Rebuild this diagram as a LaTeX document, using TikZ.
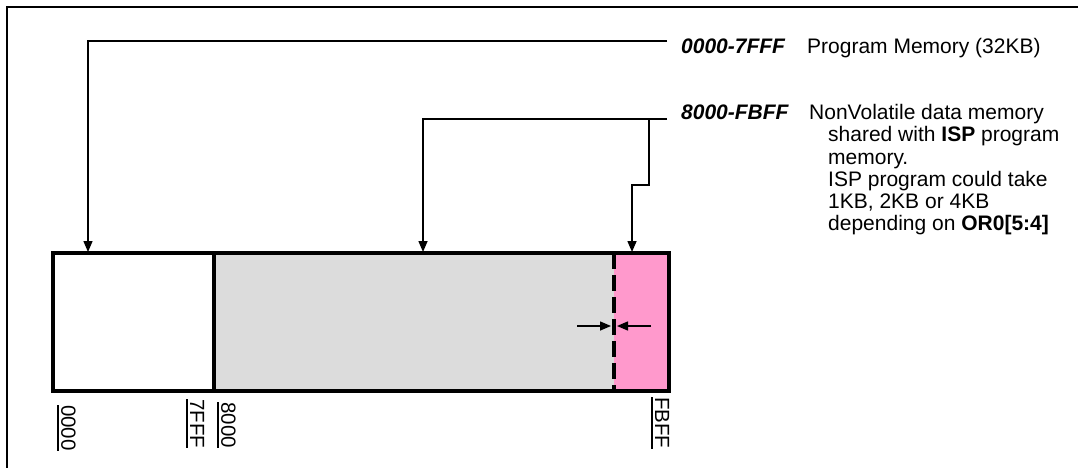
\documentclass[tikz,border=0pt]{standalone}
\usepackage{fontspec}
\setmainfont{Liberation Sans}
\usetikzlibrary{arrows.meta}
\tikzset{
  txt/.style={inner sep=0pt, anchor=base west, font=\fontsize{21}{22}\selectfont},
  addr/.style={inner sep=0pt, anchor=base west, font=\fontsize{21}{22}\selectfont\bfseries\itshape},
  vlabel/.style={rotate=-90, anchor=south west, inner xsep=0pt, inner ysep=3pt, font=\fontsize{20.5}{22}\selectfont},
  region/.style={inner sep=0pt, draw=none, minimum height=138pt},
  conn/.style={line width=1.5pt, -{Triangle[length=11pt,width=9pt]}},
  plain/.style={line width=1.5pt},
  thick box/.style={line width=3.6pt},
}
\definecolor{memgray}{HTML}{DCDCDC}
\definecolor{mempink}{HTML}{FF99CC}
\begin{document}
\begin{tikzpicture}[x=1pt,y=-1pt]
\useasboundingbox (0,0) rectangle (1078,468);
% frame
\draw[plain] (7,468) -- (7,7) -- (1078,7);
% memory regions
\node[region, fill=white, minimum width=161pt] (prog) at (133.5,322) {};
\node[region, fill=memgray, minimum width=400pt] (data) at (414,322) {};
\node[region, fill=mempink, minimum width=55pt] (isp) at (641.5,322) {};
\draw[thick box] (prog.north west) rectangle (isp.south east);
\draw[thick box] (prog.north east) -- (prog.south east);
\draw[thick box, dash pattern=on 16pt off 6pt] (data.north east) -- (data.south east);
% small arrows at the boundary
\coordinate (la) at (577,326);
\coordinate (lb) at (611,326);
\coordinate (ra) at (651,326);
\coordinate (rb) at (617,326);
\draw[conn] (la) -- (lb);
\draw[conn] (ra) -- (rb);
% labels
\node[addr] (a1) at (681,54) {0000-7FFF};
\node[txt] (t1) at (807,54) {Program Memory (32KB)};
\node[addr] (a2) at (681,120) {8000-FBFF};
\node[txt] (t2a) at (809,120) {NonVolatile data memory};
\node[txt] (t2b) at (828,142) {shared with \textbf{ISP} program};
\node[txt] (t2c) at (828,164) {memory.};
\node[txt] (t2d) at (828,186) {ISP program could take};
\node[txt] (t2e) at (828,208) {1KB, 2KB or 4KB};
\node[txt] (t2f) at (828,230) {depending on \textbf{OR0[5:4]}};
% connectors
\coordinate (s1) at (667,41);
\coordinate (e1) at (88,252);
\draw[conn] (s1) -| (e1);
\coordinate (s2) at (667,119);
\coordinate (e2) at (423,252);
\draw[conn] (s2) -| (e2);
\coordinate (b1) at (649,119);
\coordinate (b2) at (632,185);
\coordinate (e3) at (632,252);
\draw[conn] (b1) |- (b2) -- (e3);
% address labels
\node[vlabel] (v1) at (58,405) {0000};
\node[vlabel] (v2) at (187,399) {7FFF};
\node[vlabel] (v3) at (218,402) {8000};
\node[vlabel] (v4) at (652,397) {FBFF};
\foreach \n in {v1,v2,v3,v4}
  \draw[plain] (\n.south west) -- (\n.south east);
\end{tikzpicture}
\end{document}
